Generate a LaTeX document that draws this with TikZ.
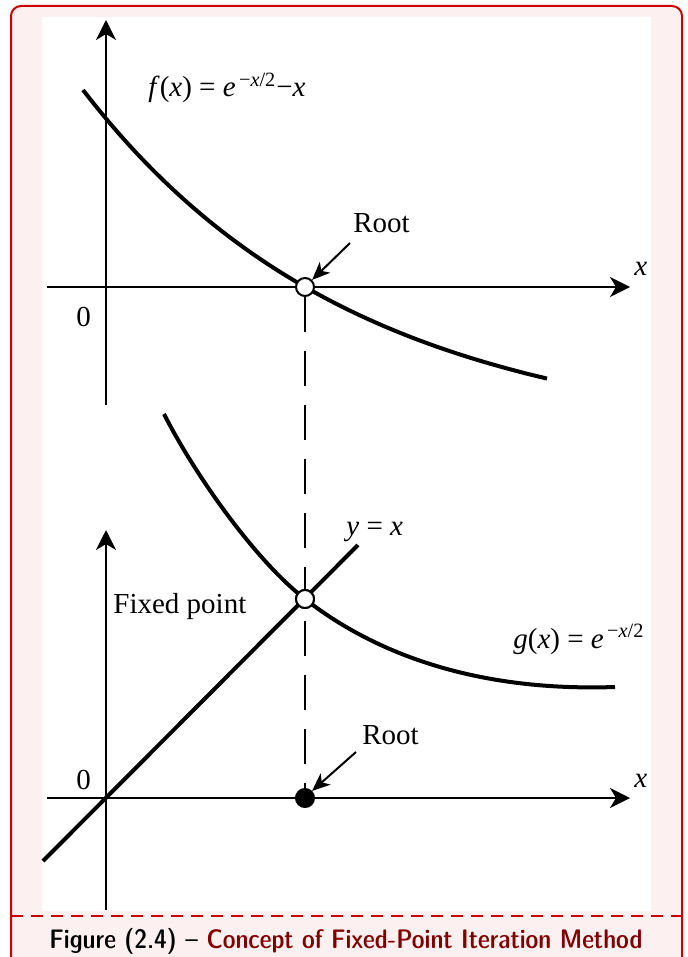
\documentclass[tikz,border=0pt]{standalone}
\usepackage{fontspec}
\setmainfont{Liberation Serif}
\newfontfamily\capfont{lmsansdemicond10-regular}[Extension=.otf,Ligatures=TeX]
\usetikzlibrary{arrows.meta}
\definecolor{framered}{RGB}{204,0,0}
\definecolor{framepink}{RGB}{253,240,240}
\definecolor{capred}{RGB}{128,0,0}
\tikzset{
  axis/.style={line width=1.2pt,-{Stealth[length=10pt,width=10pt,inset=3pt]}},
  plainaxis/.style={line width=1.2pt},
  curve/.style={line width=2pt},
  pointer/.style={line width=1pt,-{Stealth[length=9pt,width=7.5pt,inset=2.5pt]}},
  dropline/.style={line width=0.9pt,dash pattern=on 17.5pt off 9.5pt},
  opencirc/.style={circle,draw,fill=white,line width=1pt,minimum size=9pt,inner sep=0pt},
  fullcirc/.style={circle,draw,fill=black,line width=1pt,minimum size=9pt,inner sep=0pt},
  lbl/.style={inner sep=0pt,anchor=base west,font=\fontsize{14.5}{17}\selectfont},
}
\begin{document}
\begin{tikzpicture}[x=0.5pt,y=-0.5pt]
\useasboundingbox (0,0) rectangle (687,957);
\begin{scope}
\clip (0,0) rectangle (687,957);
\draw[framered,fill=framepink,line width=1pt,rounded corners=5pt] (11,6) rectangle (682,1000);
\end{scope}
\fill[white] (42,17) rectangle (651,911);
\draw[framered,line width=0.6pt,dash pattern=on 6pt off 4pt] (11,916) -- (682,916);
\node[inner sep=0pt,anchor=base,font=\capfont\fontsize{13.4}{16}\selectfont] (cap) at (346,948)
  {Figure (2.4) – \textcolor{capred}{Concept of Fixed-Point Iteration Method}};
% ---------- top plot ----------
\coordinate (t0) at (106,287);
\coordinate (tyb) at (106,405);
\coordinate (tyt) at (106,20);
\coordinate (txl) at (47,287);
\coordinate (txr) at (630,287);
\draw[axis] (tyb) -- (tyt);
\draw[axis] (txl) -- (txr);
\draw[curve] plot[domain=83:547,samples=80] (\x,{90+352*(1-exp(-0.0037*(\x-83)))});
\node[opencirc] (r1) at (305,287) {};
\node[lbl] (root1) at (353,233) {Root};
\coordinate (a1s) at (350,243);
\draw[pointer] (a1s) -- (r1.45);
\node[lbl] (fx) at (148,97) {\textit{f}(\textit{x}) = \textit{e}\textsuperscript{\,−\textit{x}/2}−\textit{x}};
\node[lbl] (x1) at (634,275) {\textit{x}};
\node[lbl] (o1) at (76,326) {0};
% ---------- bottom plot ----------
\coordinate (b0) at (106,798);
\coordinate (byb) at (106,910);
\coordinate (byt) at (106,530);
\coordinate (bxl) at (47,798);
\coordinate (bxr) at (630,798);
\draw[axis] (byb) -- (byt);
\draw[axis] (bxl) -- (bxr);
\coordinate (ylo) at (43,861);
\coordinate (yhi) at (358,545);
\draw[curve] (ylo) -- (yhi);
\coordinate (gs) at (164,414);
\coordinate (ge) at (615,687);
\draw[curve] (gs) .. controls (195,475) and (255,560) .. (305,599)
  .. controls (370,650) and (470,692) .. (ge);
\node[opencirc] (fp) at (305,599) {};
\node[fullcirc] (r2) at (305,798) {};
\draw[dropline] (r1) -- (r2);
\node[opencirc] at (305,599) {};
\node[lbl] (root2) at (362,744) {Root};
\coordinate (a2s) at (356,752);
\draw[pointer] (a2s) -- (r2.45);
\node[lbl] (yx) at (346,535) {\textit{y} = \textit{x}};
\node[lbl] (fixed) at (113,613) {Fixed point};
\node[lbl] (gx) at (513,648) {\textit{g}(\textit{x}) = \textit{e}\textsuperscript{\,−\textit{x}/2}};
\node[lbl] (x2) at (634,787) {\textit{x}};
\node[lbl] (o2) at (76,789) {0};
\end{tikzpicture}
\end{document}
